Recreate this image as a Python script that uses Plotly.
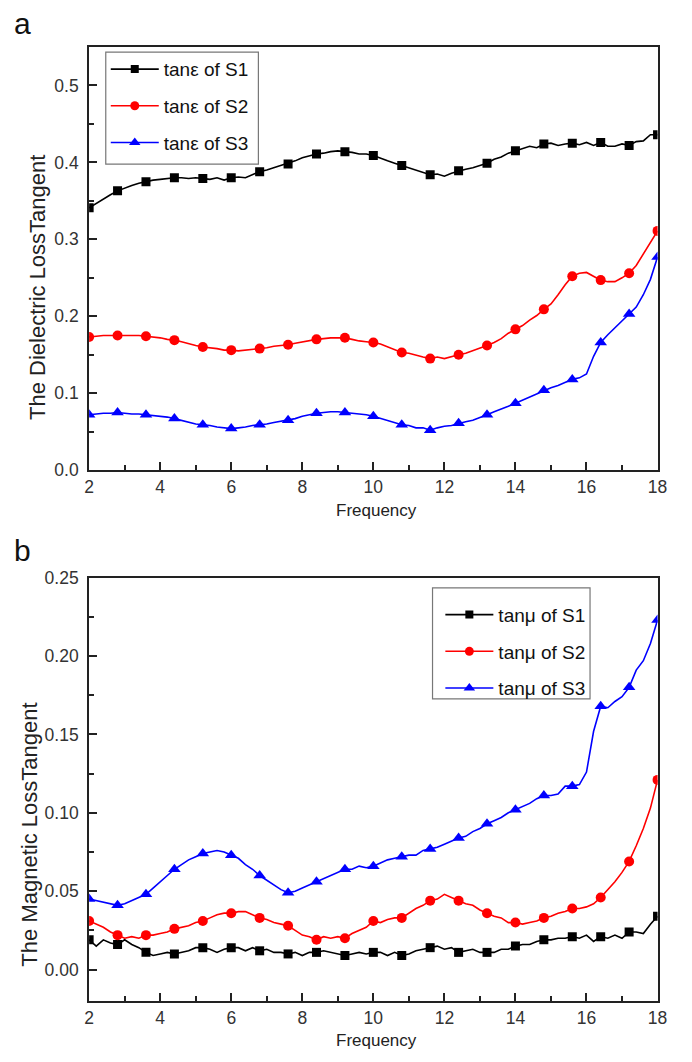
import plotly.graph_objects as go

# Frequency sweep (GHz), 0.2 GHz steps
freq = [2.0, 2.2, 2.4, 2.6, 2.8, 3.0, 3.2, 3.4, 3.6, 3.8,
        4.0, 4.2, 4.4, 4.6, 4.8, 5.0, 5.2, 5.4, 5.6, 5.8,
        6.0, 6.2, 6.4, 6.6, 6.8, 7.0, 7.2, 7.4, 7.6, 7.8,
        8.0, 8.2, 8.4, 8.6, 8.8, 9.0, 9.2, 9.4, 9.6, 9.8,
        10.0, 10.2, 10.4, 10.6, 10.8, 11.0, 11.2, 11.4, 11.6, 11.8,
        12.0, 12.2, 12.4, 12.6, 12.8, 13.0, 13.2, 13.4, 13.6, 13.8,
        14.0, 14.2, 14.4, 14.6, 14.8, 15.0, 15.2, 15.4, 15.6, 15.8,
        16.0, 16.2, 16.4, 16.6, 16.8, 17.0, 17.2, 17.4, 17.6, 17.8,
        18.0]

# Dielectric loss tangent (tan e)
tan_e_s1 = [0.341, 0.347, 0.353, 0.358, 0.363, 0.367, 0.370, 0.373, 0.375, 0.377,
            0.378, 0.379, 0.380, 0.380, 0.379, 0.380, 0.379, 0.378, 0.380, 0.377,
            0.380, 0.381, 0.380, 0.384, 0.388, 0.390, 0.393, 0.395, 0.398, 0.402,
            0.406, 0.409, 0.411, 0.412, 0.414, 0.415, 0.414, 0.413, 0.411, 0.411,
            0.409, 0.405, 0.402, 0.399, 0.396, 0.392, 0.389, 0.386, 0.384, 0.385,
            0.382, 0.386, 0.389, 0.391, 0.393, 0.396, 0.399, 0.404, 0.407, 0.412,
            0.415, 0.418, 0.421, 0.419, 0.424, 0.425, 0.422, 0.424, 0.425, 0.423,
            0.426, 0.422, 0.426, 0.421, 0.421, 0.424, 0.422, 0.427, 0.428, 0.436,
            0.436]
tan_e_s2 = [0.173, 0.174, 0.175, 0.175, 0.175, 0.175, 0.175, 0.175, 0.174, 0.173,
            0.172, 0.170, 0.169, 0.167, 0.164, 0.162, 0.160, 0.159, 0.158, 0.156,
            0.156, 0.155, 0.156, 0.157, 0.158, 0.159, 0.161, 0.162, 0.163, 0.165,
            0.167, 0.169, 0.170, 0.171, 0.172, 0.172, 0.172, 0.170, 0.168, 0.167,
            0.166, 0.164, 0.160, 0.157, 0.153, 0.152, 0.149, 0.147, 0.145, 0.147,
            0.145, 0.148, 0.150, 0.152, 0.155, 0.158, 0.162, 0.166, 0.171, 0.178,
            0.183, 0.188, 0.195, 0.201, 0.209, 0.216, 0.228, 0.241, 0.252, 0.256,
            0.257, 0.252, 0.247, 0.245, 0.245, 0.250, 0.256, 0.266, 0.281, 0.296,
            0.311]
tan_e_s3 = [0.072, 0.073, 0.074, 0.074, 0.075, 0.074, 0.073, 0.073, 0.072, 0.071,
            0.070, 0.069, 0.067, 0.065, 0.062, 0.060, 0.059, 0.058, 0.056, 0.055,
            0.054, 0.055, 0.056, 0.058, 0.059, 0.060, 0.062, 0.064, 0.065, 0.067,
            0.070, 0.072, 0.074, 0.075, 0.076, 0.076, 0.075, 0.074, 0.073, 0.072,
            0.070, 0.067, 0.064, 0.062, 0.059, 0.058, 0.055, 0.055, 0.052, 0.055,
            0.057, 0.058, 0.061, 0.063, 0.065, 0.068, 0.072, 0.076, 0.079, 0.083,
            0.087, 0.091, 0.095, 0.099, 0.104, 0.107, 0.110, 0.114, 0.118, 0.120,
            0.125, 0.148, 0.166, 0.176, 0.185, 0.193, 0.203, 0.212, 0.228, 0.248,
            0.277]

# Magnetic loss tangent (tan u)
tan_u_s1 = [0.019, 0.015, 0.019, 0.017, 0.016, 0.019, 0.016, 0.014, 0.011, 0.009,
            0.010, 0.011, 0.010, 0.011, 0.012, 0.014, 0.014, 0.013, 0.011, 0.013,
            0.014, 0.014, 0.012, 0.014, 0.012, 0.013, 0.011, 0.011, 0.010, 0.011,
            0.009, 0.011, 0.011, 0.012, 0.011, 0.010, 0.009, 0.010, 0.011, 0.010,
            0.011, 0.011, 0.009, 0.011, 0.009, 0.010, 0.012, 0.013, 0.014, 0.015,
            0.013, 0.014, 0.011, 0.012, 0.013, 0.011, 0.011, 0.011, 0.013, 0.013,
            0.015, 0.016, 0.016, 0.018, 0.019, 0.019, 0.020, 0.020, 0.021, 0.020,
            0.022, 0.018, 0.021, 0.020, 0.022, 0.020, 0.024, 0.024, 0.023, 0.029,
            0.034]
tan_u_s2 = [0.031, 0.029, 0.027, 0.024, 0.022, 0.020, 0.021, 0.020, 0.022, 0.022,
            0.023, 0.024, 0.026, 0.027, 0.028, 0.030, 0.031, 0.033, 0.035, 0.036,
            0.036, 0.037, 0.037, 0.035, 0.033, 0.032, 0.030, 0.029, 0.028, 0.025,
            0.022, 0.021, 0.019, 0.021, 0.020, 0.021, 0.020, 0.023, 0.025, 0.027,
            0.031, 0.030, 0.032, 0.033, 0.033, 0.036, 0.039, 0.041, 0.044, 0.045,
            0.048, 0.046, 0.044, 0.042, 0.041, 0.038, 0.036, 0.034, 0.033, 0.030,
            0.030, 0.029, 0.030, 0.031, 0.033, 0.034, 0.036, 0.037, 0.039, 0.039,
            0.040, 0.042, 0.046, 0.051, 0.056, 0.062, 0.069, 0.079, 0.090, 0.103,
            0.121]
tan_u_s3 = [0.045, 0.044, 0.043, 0.042, 0.041, 0.042, 0.044, 0.046, 0.048, 0.052,
            0.056, 0.060, 0.064, 0.067, 0.070, 0.072, 0.074, 0.075, 0.076, 0.075,
            0.073, 0.071, 0.067, 0.064, 0.060, 0.057, 0.054, 0.051, 0.049, 0.050,
            0.052, 0.054, 0.056, 0.058, 0.060, 0.062, 0.064, 0.064, 0.066, 0.065,
            0.066, 0.068, 0.070, 0.071, 0.072, 0.073, 0.073, 0.076, 0.077, 0.078,
            0.080, 0.082, 0.084, 0.085, 0.088, 0.090, 0.093, 0.095, 0.097, 0.100,
            0.102, 0.104, 0.106, 0.109, 0.111, 0.111, 0.112, 0.117, 0.117, 0.118,
            0.126, 0.152, 0.168, 0.167, 0.171, 0.174, 0.180, 0.191, 0.197, 0.208,
            0.223]

# Tick values
freq_ticks = [2, 4, 6, 8, 10, 12, 14, 16, 18]
eps_ticks = [0.0, 0.1, 0.2, 0.3, 0.4, 0.5]
mu_ticks = [0.00, 0.05, 0.10, 0.15, 0.20, 0.25]

MARK_STEP = 4  # a symbol on every 4th sample (0.8 GHz)
FONT = "Liberation Sans, Arial, sans-serif"

series_top = [
    ("tanε of S1", tan_e_s1, "#000000", "square", 9),
    ("tanε of S2", tan_e_s2, "#ff0000", "circle", 10),
    ("tanε of S3", tan_e_s3, "#0000ff", "triangle-up", 11),
]
series_bot = [
    ("tanμ of S1", tan_u_s1, "#000000", "square", 9),
    ("tanμ of S2", tan_u_s2, "#ff0000", "circle", 10),
    ("tanμ of S3", tan_u_s3, "#0000ff", "triangle-up", 11),
]

fig = go.Figure()


def add_series(name, yvals, color, symbol, size, xa, ya, legend):
    grp = f"{legend}-{name}"
    fig.add_trace(go.Scatter(
        x=freq, y=yvals, mode="lines", xaxis=xa, yaxis=ya,
        line=dict(color=color, width=1.6), showlegend=False,
        legendgroup=grp, legend=legend, hoverinfo="skip"))
    fig.add_trace(go.Scatter(
        x=freq[::MARK_STEP], y=yvals[::MARK_STEP], mode="markers",
        xaxis=xa, yaxis=ya, showlegend=False, legendgroup=grp, legend=legend,
        marker=dict(symbol=symbol, size=size, color=color)))
    # legend entry (line with symbol)
    fig.add_trace(go.Scatter(
        x=[None], y=[None], mode="lines+markers", xaxis=xa, yaxis=ya,
        name=name, legendgroup=grp, legend=legend,
        line=dict(color=color, width=1.6),
        marker=dict(symbol=symbol, size=size - 1, color=color)))


for s in series_top:
    add_series(*s, "x", "y", "legend")
for s in series_bot:
    add_series(*s, "x2", "y2", "legend2")

W, H = 692, 1062
x_dom = [86 / W, 667 / W]
top_dom = [1 - 469 / H, 1 - 37.7 / H]
bot_dom = [1 - 1010 / H, 1 - 578.5 / H]

axis_common = dict(
    showline=True, linecolor="#222", linewidth=2, mirror=True,
    ticks="inside", ticklen=8, tickwidth=1.5, tickcolor="#222",
    showgrid=False, zeroline=False,
    tickfont=dict(family=FONT, size=17.5, color="#333"),
)

legend_common = dict(
    xanchor="left", yanchor="top", bgcolor="rgba(0,0,0,0)",
    borderwidth=0,
    font=dict(family=FONT, size=19, color="#111"),
    traceorder="grouped", tracegroupgap=9, itemwidth=48,
)

fig.update_layout(
    width=W, height=H, margin=dict(l=0, r=0, t=0, b=0),
    paper_bgcolor="white", plot_bgcolor="white",
    font=dict(family=FONT, color="#222"),
    xaxis=dict(domain=x_dom, anchor="y", range=[2, 18], tickvals=freq_ticks,
               minor=dict(ticks="inside", ticklen=5, dtick=1, tickcolor="#222", tickwidth=1.5),
               **axis_common),
    yaxis=dict(domain=top_dom, anchor="x", range=[0, 0.55], tickvals=eps_ticks,
               tickformat=".1f", ticklabelstandoff=5,
               minor=dict(ticks="inside", ticklen=5, dtick=0.05, tick0=0, tickcolor="#222", tickwidth=1.5),
               **axis_common),
    xaxis2=dict(domain=x_dom, anchor="y2", range=[2, 18], tickvals=freq_ticks,
                minor=dict(ticks="inside", ticklen=5, dtick=1, tickcolor="#222", tickwidth=1.5),
                **axis_common),
    yaxis2=dict(domain=bot_dom, anchor="x2", range=[-0.02, 0.25], tickvals=mu_ticks,
                tickformat=".2f", ticklabelstandoff=5,
                minor=dict(ticks="inside", ticklen=5, dtick=0.025, tick0=0, tickcolor="#222", tickwidth=1.5),
                **axis_common),
    legend=dict(x=103 / W, y=1 - 41 / H, **legend_common),
    legend2=dict(x=445 / W, y=1 - 597 / H, **legend_common),
)

# Legend frames
for x0, y0, x1, y1 in [(103, 43, 259, 157), (437, 589, 598, 702)]:
    fig.add_shape(type="rect", xref="paper", yref="paper",
                  x0=x0 / W, x1=x1 / W, y0=1 - y1 / H, y1=1 - y0 / H,
                  line=dict(color="#777", width=1.2), fillcolor="white", layer="above")

annotations = [
    dict(text="a", x=7 / W, y=1 - 14 / H, xanchor="left", yanchor="middle",
         font=dict(family=FONT, size=30, color="#111")),
    dict(text="b", x=7 / W, y=1 - 551 / H, xanchor="left", yanchor="middle",
         font=dict(family=FONT, size=30, color="#111")),
    dict(text="The Dielectric LossTangent", textangle=-90, x=33 / W, y=1 - 283 / H,
         xanchor="center", yanchor="middle", font=dict(family=FONT, size=22, color="#222")),
    dict(text="The Magnetic LossTangent", textangle=-90, x=25 / W, y=1 - 840 / H,
         xanchor="center", yanchor="middle", font=dict(family=FONT, size=22, color="#222")),
    dict(text="Frequency", x=380 / W, y=1 - 510 / H, xanchor="center", yanchor="middle",
         font=dict(family=FONT, size=17, color="#222")),
    dict(text="Frequency", x=380 / W, y=1 - 1050 / H, xanchor="center", yanchor="middle",
         font=dict(family=FONT, size=17, color="#222")),
]
for a in annotations:
    fig.add_annotation(xref="paper", yref="paper", showarrow=False, **a)

fig.write_html("out.html")
